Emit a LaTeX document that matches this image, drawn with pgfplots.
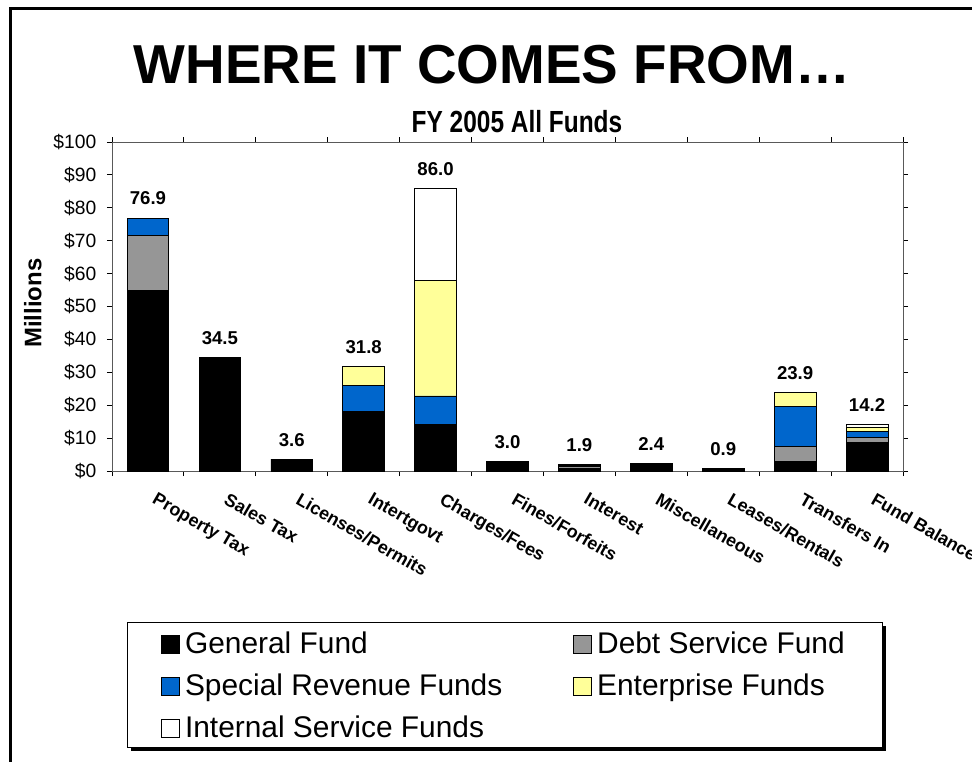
\documentclass[border=0pt]{standalone}
\usepackage{fontspec}
\setmainfont{Liberation Sans}
\newfontfamily\narrowsf[FakeStretch=0.8]{Liberation Sans}
\usepackage{pgfplots}
\pgfplotsset{compat=1.18}
\definecolor{debtgray}{HTML}{969696}
\definecolor{specblue}{HTML}{0066CC}
\definecolor{entyellow}{HTML}{FFFF99}
\begin{document}
\begin{tikzpicture}
\useasboundingbox (0bp,0bp) rectangle (729bp,-571.5bp);
\begin{scope}[x=0.75bp,y=-0.75bp]
\fill[white] (0,0) rectangle (972,762);
\draw[line width=2.25bp] (10,770) -- (10,8) -- (980,8);
\node[anchor=base, inner sep=0pt, font=\fontsize{41.3}{48}\selectfont\bfseries] at (492,83) {WHERE IT COMES FROM…};
\node[anchor=base, inner sep=0pt, font=\narrowsf\fontsize{23}{27}\selectfont\bfseries] at (517,132) {FY 2005 All Funds};
\fill[black] (131,626) rectangle (886,751);
\draw[fill=white, line width=0.75bp] (127,622) rectangle (882,747);
\end{scope}
\begin{axis}[
  at={(84bp,-353.25bp)}, anchor=south west,
  scale only axis, width=593.25bp, height=246.75bp,
  ybar stacked, bar width=0.58,
  xmin=-0.5, xmax=10.5, ymin=0, ymax=100,
  ytick={0,10,...,100},
  /pgf/number format/assume math mode=true,
  yticklabel={\$\pgfmathprintnumber{\tick}},
  xtick={0,...,10},
  xticklabels={Property Tax, Sales Tax, Licenses/Permits, Intertgovt, Charges/Fees, Fines/Forfeits, Interest, Miscellaneous, Leases/Rentals, Transfers In, Fund Balance},
  minor xtick={-0.5,0.5,...,10.5},
  major x tick style={draw=none},
  tick align=outside, major tick length=3.75bp, minor tick length=3.75bp,
  tick style={black, line width=0.75bp},
  axis line style={black!65, line width=0.75bp},
  xticklabel style={font=\fontsize{13.5}{15}\selectfont\bfseries, rotate=-30, anchor=north west, xshift=8.7bp, yshift=-3.2bp},
  yticklabel style={font=\fontsize{14.5}{17}\selectfont, xshift=-4.5bp},
  ylabel={Millions},
  every axis y label/.style={at={(axis description cs:-0.1,0.51)}, rotate=90, anchor=center, font=\fontsize{18}{20}\selectfont\bfseries},
  clip=false,
  every axis plot/.append style={draw=black, line width=0.6bp},
  legend columns=2,
  legend cell align=left,
  legend style={at={(axis description cs:0.0615,-0.480)}, anchor=north west, draw=none, fill=none, inner sep=0pt,
    font=\fontsize{22.5}{26}\selectfont,
    nodes={text height=17bp, text depth=5bp, inner sep=1bp},
    row sep=7.5bp,
    /tikz/every odd column/.append style={column sep=3bp},
    /tikz/every even column/.append style={column sep=52bp}},
  legend image code/.code={\draw[#1,draw=black,line width=0.6bp] (0bp,-6bp) rectangle (13.5bp,7.5bp);},
]
\addplot[fill=black] coordinates {(0,54.9) (1,34.5) (2,3.6) (3,18.0) (4,14.2) (5,3.0) (6,0.9) (7,2.4) (8,0.7) (9,3.0) (10,8.8)};
\addlegendentry{General Fund}
\addplot[fill=debtgray] coordinates {(0,16.6) (1,0) (2,0) (3,0) (4,0) (5,0) (6,0.6) (7,0) (8,0) (9,4.6) (10,1.4)};
\addlegendentry{Debt Service Fund}
\addplot[fill=specblue] coordinates {(0,5.4) (1,0) (2,0) (3,8.0) (4,8.6) (5,0) (6,0.2) (7,0) (8,0) (9,12.1) (10,1.9)};
\addlegendentry{Special Revenue Funds}
\addplot[fill=entyellow] coordinates {(0,0) (1,0) (2,0) (3,5.8) (4,35.2) (5,0) (6,0.2) (7,0) (8,0.2) (9,4.2) (10,1.3)};
\addlegendentry{Enterprise Funds}
\addplot[fill=white] coordinates {(0,0) (1,0) (2,0) (3,0) (4,28.0) (5,0) (6,0) (7,0) (8,0) (9,0) (10,0.8)};
\addlegendentry{Internal Service Funds}
\addplot[draw opacity=0, fill opacity=0, point meta=explicit,
  nodes near coords={\pgfmathprintnumber[fixed,fixed zerofill,precision=1]{\pgfplotspointmeta}},
  nodes near coords style={text=black, text opacity=1, font=\fontsize{14}{16}\selectfont\bfseries, anchor=south, yshift=6bp}]
  coordinates {(0,0.001) [76.9] (1,0.001) [34.5] (2,0.001) [3.6] (3,0.001) [31.8] (4,0.001) [86.0] (5,0.001) [3.0] (6,0.001) [1.9] (7,0.001) [2.4] (8,0.001) [0.9] (9,0.001) [23.9] (10,0.001) [14.2]};
\end{axis}
\end{tikzpicture}
\end{document}
